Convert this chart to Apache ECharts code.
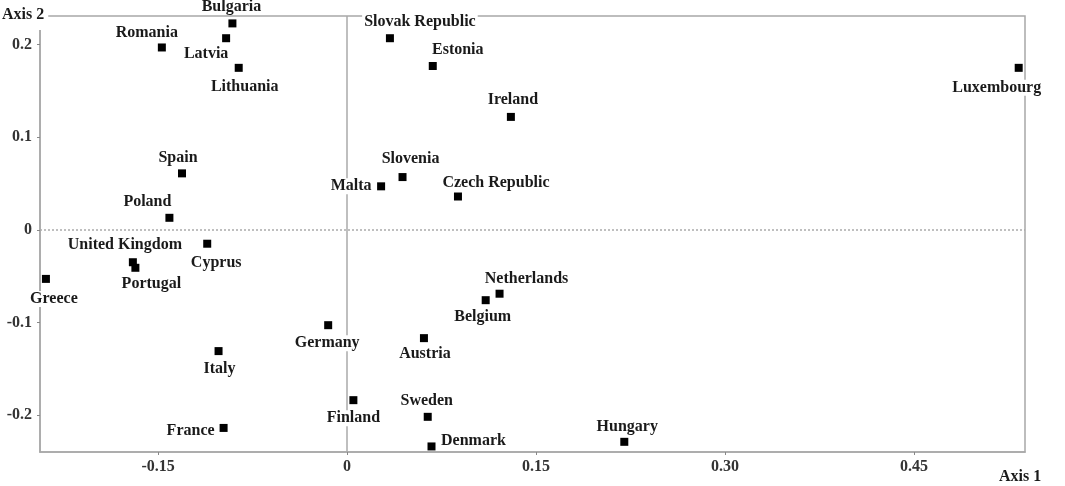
<!DOCTYPE html>
<html>
<head>
<meta charset="utf-8">
<script src="https://cdn.jsdelivr.net/npm/echarts@6/dist/echarts.min.js"></script>
<style>
  html, body { margin: 0; padding: 0; background: #fff; }
  #chart { width: 1065px; height: 486px; }
</style>
</head>
<body>
<div id="chart"></div>
<script>
// countries and their coordinates on the two axes
const countries = [
  'Bulgaria', 'Latvia', 'Romania', 'Lithuania', 'Slovak Republic', 'Estonia',
  'Ireland', 'Luxembourg', 'Spain', 'Slovenia', 'Malta', 'Czech Republic',
  'Poland', 'United Kingdom', 'Portugal', 'Cyprus', 'Greece', 'Netherlands',
  'Belgium', 'Germany', 'Austria', 'Italy', 'Finland', 'Sweden', 'France',
  'Hungary', 'Denmark'
];
const axis1 = [
  -0.091, -0.096, -0.147, -0.086, 0.034, 0.068,
  0.130, 0.533, -0.131, 0.044, 0.027, 0.088,
  -0.141, -0.170, -0.168, -0.111, -0.239, 0.121,
  0.110, -0.015, 0.061, -0.102, 0.005, 0.064, -0.098,
  0.220, 0.067
];
const axis2 = [
  0.223, 0.207, 0.197, 0.175, 0.207, 0.177,
  0.122, 0.175, 0.061, 0.057, 0.047, 0.036,
  0.013, -0.035, -0.041, -0.015, -0.053, -0.069,
  -0.076, -0.103, -0.117, -0.131, -0.184, -0.202, -0.214,
  -0.229, -0.234
];
const xTicks = [-0.15, 0, 0.15, 0.30, 0.45];
const yTicks = [-0.2, -0.1, 0, 0.1, 0.2];

// label offsets from the marker centre (layout only)
const labelOffset = {
  'Bulgaria': [-1, -17], 'Latvia': [-20, 16], 'Romania': [-15, -15],
  'Lithuania': [6, 19], 'Slovak Republic': [30, -16], 'Estonia': [25, -16],
  'Ireland': [2, -17], 'Luxembourg': [-22, 20], 'Spain': [-4, -16],
  'Slovenia': [8, -18], 'Malta': [-30, 0], 'Czech Republic': [38, -14],
  'Poland': [-22, -16], 'United Kingdom': [-8, -17], 'Portugal': [16, 16],
  'Cyprus': [9, 19], 'Greece': [8, 20], 'Netherlands': [27, -15],
  'Belgium': [-3, 17], 'Germany': [-1, 18], 'Austria': [1, 16],
  'Italy': [1, 18], 'Finland': [0, 18], 'Sweden': [-1, -16],
  'France': [-33, 3], 'Hungary': [3, -15], 'Denmark': [42, -6]
};

const fontFamily = '"Liberation Serif", "DejaVu Serif", serif';
const frameColor = '#a8a8a8';

const points = countries.map((name, i) => ({
  name: name,
  value: [axis1[i], axis2[i]],
  label: { offset: labelOffset[name] || [0, -16] }
}));

const chart = echarts.init(document.getElementById('chart'));
chart.setOption({
  animation: false,
  backgroundColor: '#fff',
  grid: {
    left: 40, right: 40, top: 16, bottom: 34,
    show: true,
    borderColor: frameColor,
    borderWidth: 1.5
  },
  xAxis: {
    type: 'value',
    min: -0.2437,
    max: 0.538,
    splitLine: { show: false },
    axisLine: { onZero: false, lineStyle: { color: frameColor, width: 1.5 } },
    axisTick: { customValues: xTicks, length: 3, lineStyle: { color: '#888' } },
    axisLabel: {
      customValues: xTicks,
      margin: 7,
      color: '#333',
      fontFamily: fontFamily,
      fontWeight: 'bold',
      fontSize: 16,
      formatter: v => (v === 0 ? '0' : v.toFixed(2))
    }
  },
  yAxis: {
    type: 'value',
    min: -0.240,
    max: 0.231,
    splitLine: { show: false },
    axisLine: { onZero: false, lineStyle: { color: frameColor, width: 1.5 } },
    axisTick: { customValues: yTicks, length: 3, lineStyle: { color: '#888' } },
    axisLabel: {
      customValues: yTicks,
      margin: 8,
      color: '#333',
      fontFamily: fontFamily,
      fontWeight: 'bold',
      fontSize: 16,
      formatter: v => (v === 0 ? '0' : v.toFixed(1))
    }
  },
  graphic: [
    {
      type: 'text', left: 0, top: 4, z: 100,
      style: {
        text: 'Axis 2', fill: '#1a1a1a', font: 'bold 16px ' + fontFamily,
        backgroundColor: '#fff', padding: [3, 4, 7, 2]
      }
    },
    {
      type: 'text', left: 999, top: 469, z: 100,
      style: { text: 'Axis 1', fill: '#1a1a1a', font: 'bold 16px ' + fontFamily }
    }
  ],
  series: [
    {
      type: 'scatter',
      z: 1,
      data: [],
      markLine: {
        silent: true,
        symbol: 'none',
        label: { show: false },
        data: [
          { xAxis: 0, lineStyle: { color: '#aaa', width: 1.5, type: 'solid' } },
          { yAxis: 0, lineStyle: { color: '#aaa', width: 1.5, type: [2, 2] } }
        ]
      }
    },
    {
      type: 'scatter',
      z: 5,
      symbol: 'rect',
      symbolSize: 8,
      itemStyle: { color: '#000', opacity: 1 },
      label: {
        show: true,
        position: 'inside',
        formatter: '{b}',
        color: '#1a1a1a',
        opacity: 1,
        fontFamily: fontFamily,
        fontWeight: 'bold',
        fontSize: 16,
        backgroundColor: '#fff',
        padding: [0, 2]
      },
      data: points
    }
  ]
});
</script>
</body>
</html>
